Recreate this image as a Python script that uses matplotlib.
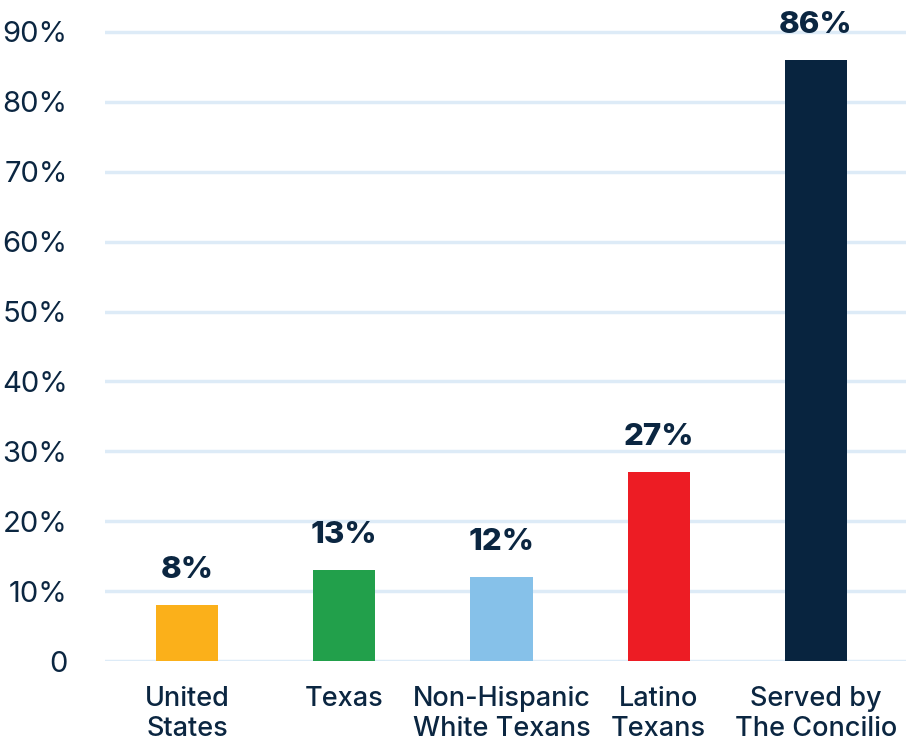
import matplotlib.pyplot as plt
import numpy as np

groups = ["United\nStates", "Texas", "Non-Hispanic\nWhite Texans", "Latino\nTexans", "Served by\nThe Concilio"]
values = [8, 13, 12, 27, 86]
bar_colors = ["#FBB01A", "#22A04B", "#86C1E9", "#ED1C24", "#08243F"]
yticks = [0, 10, 20, 30, 40, 50, 60, 70, 80, 90]
ytick_labels = ["0"] + [str(t) + "%" for t in yticks[1:]]

navy = "#0B2641"
plt.rcParams['font.family'] = ['Inter', 'DejaVu Sans']

fig = plt.figure(figsize=(9.06, 7.46), dpi=100)
ax = fig.add_axes([105 / 906, 85 / 746, 801 / 906, 657 / 746])

x = np.arange(len(groups))
ax.bar(x, values, width=0.395, color=bar_colors, zorder=3)

for xi, v in zip(x, values):
    ax.annotate(str(v) + "%", (xi, v), xytext=(0, 15), textcoords="offset points",
                ha="center", va="bottom", fontsize=22.5, fontweight="heavy", color=navy)

ax.set_xlim(-0.522, 4.573)
ax.set_ylim(0, 94)
ax.set_yticks(yticks)
ax.set_yticklabels(ytick_labels, fontsize=21, fontweight="normal", color=navy)
ax.set_xticks(x)
ax.set_xticklabels(groups, fontsize=19.5, fontweight="medium", color=navy, linespacing=1.2)

ax.tick_params(axis="y", length=0, pad=27)
ax.tick_params(axis="x", length=0, pad=18)
ax.grid(axis="y", color="#DDEBF7", linewidth=2.5, zorder=0)
for s in ax.spines.values():
    s.set_visible(False)

fig.savefig("out.png", dpi=100)
